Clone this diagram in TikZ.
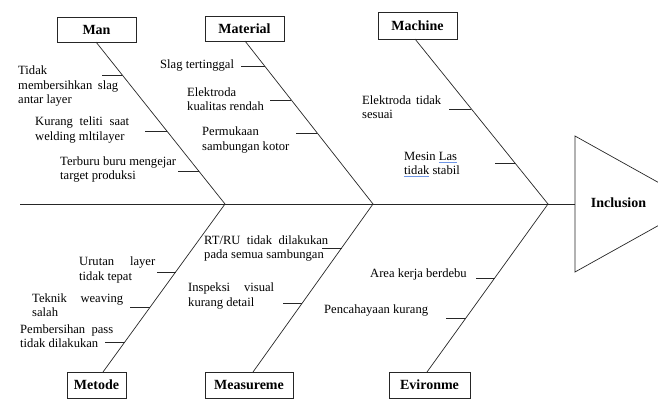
\documentclass[tikz,border=0pt]{standalone}
\usepackage{fontspec}
\setmainfont{Liberation Serif}
\usetikzlibrary{calc}
\definecolor{ulblue}{RGB}{110,150,230}
\newcommand\spellul[1]{\setbox0=\hbox{#1}\rlap{\textcolor{ulblue}{\rule[-2.6pt]{\wd0}{1.3pt}}}\box0\relax}
\tikzset{
  bone/.style={draw=black!85, line width=0.7pt},
  catbox/.style={draw=black!85, line width=0.7pt, inner sep=0pt, font=\fontsize{14}{16}\selectfont\bfseries},
  txt/.style={anchor=west, inner sep=0pt, align=left, font=\fontsize{12.6}{14.2}\selectfont}
}
\begin{document}
\begin{tikzpicture}[x=1pt,y=-1pt]
\useasboundingbox (0,0) rectangle (658,402);
\clip (0,0) rectangle (658,402);
% head
\coordinate (t1) at (575,136);
\coordinate (t2) at (697,204);
\coordinate (t3) at (575,272);
\draw[bone] (t1) -- (t2) -- (t3) -- cycle;
\node[inner sep=0pt, font=\fontsize{14}{16}\selectfont\bfseries] (effect) at (618.5,203) {Inclusion};
% spine
\coordinate (tail) at (20,204);
\coordinate (head) at (575,204);
\coordinate (j1) at (225,204);
\coordinate (j2) at (373,204);
\coordinate (j3) at (548,204);
\draw[bone] (tail) -- (head);
% boxes
\node[catbox, minimum width=79pt, minimum height=25pt] (man) at (96.5,29.5) {Man};
\node[catbox, minimum width=79pt, minimum height=25pt] (material) at (244.5,28.5) {Material};
\node[catbox, minimum width=79pt, minimum height=27pt] (machine) at (417.5,25.5) {Machine};
\node[catbox, minimum width=59pt, minimum height=26pt] (metode) at (96.5,385) {Metode};
\node[catbox, minimum width=88pt, minimum height=26pt] (measure) at (249,385) {Measureme};
\node[catbox, minimum width=81pt, minimum height=26pt] (envir) at (429.5,385) {Evironme};
% bone ends at boxes
\coordinate (manB) at (96,42);
\coordinate (matB) at (245,41);
\coordinate (macB) at (415,39);
\coordinate (metB) at (103,372);
\coordinate (meaB) at (253,372);
\coordinate (envB) at (427,372);
\draw[bone] (manB) -- (j1);
\draw[bone] (matB) -- (j2);
\draw[bone] (macB) -- (j3);
\draw[bone] (metB) -- (j1);
\draw[bone] (meaB) -- (j2);
\draw[bone] (envB) -- (j3);
% ticks: Man
\coordinate (a1s) at (102,75);  \coordinate (a1e) at (122.3,75);
\coordinate (a2s) at (145,131); \coordinate (a2e) at (166.9,131);
\coordinate (a3s) at (178,171); \coordinate (a3e) at (198.7,171);
% Material
\coordinate (b1s) at (241,66);  \coordinate (b1e) at (264.6,66);
\coordinate (b2s) at (270,100); \coordinate (b2e) at (291.3,100);
\coordinate (b3s) at (296,133); \coordinate (b3e) at (317.2,133);
% Machine
\coordinate (c1s) at (449,109); \coordinate (c1e) at (471.4,109);
\coordinate (c2s) at (495,163); \coordinate (c2e) at (515,163);
% Metode
\coordinate (d1s) at (157,272); \coordinate (d1e) at (175.6,272);
\coordinate (d2s) at (130,307); \coordinate (d2e) at (150.2,307);
\coordinate (d3s) at (105,342); \coordinate (d3e) at (124.8,342);
% Measureme
\coordinate (e1s) at (322,248); \coordinate (e1e) at (341.6,248);
\coordinate (e2s) at (283,303); \coordinate (e2e) at (302.3,303);
% Evironme
\coordinate (f1s) at (476,278); \coordinate (f1e) at (494.7,278);
\coordinate (f2s) at (446,318); \coordinate (f2e) at (465.9,318);
\foreach \p in {a1,a2,a3,b1,b2,b3,c1,c2,d1,d2,d3,e1,e2,f1,f2}
  \draw[bone] (\p s) -- (\p e);
% texts
\node[txt] (ta1) at (18,86) {Tidak\\\makebox[100pt][s]{membersihkan slag}\\antar layer};
\node[txt] (ta2) at (35,130) {\makebox[94pt][s]{Kurang teliti saat}\\welding mltilayer};
\node[txt] (ta3) at (60,169.5) {Terburu buru mengejar\\target produksi};
\node[txt] (tb1) at (160,65.5) {Slag tertinggal};
\node[txt] (tb2) at (187,99) {Elektroda\\kualitas rendah};
\node[txt] (tb3) at (202,140) {Permukaan\\sambungan kotor};
\node[txt] (tc1) at (362,107.5) {\makebox[79pt][s]{Elektroda tidak}\\sesuai};
\node[txt] (tc2) at (404,164.5) {Mesin \spellul{Las}\\\spellul{tidak} stabil};
\node[txt] (td1) at (79,270) {\makebox[76pt][s]{Urutan layer}\\tidak tepat};
\node[txt] (td2) at (32,305) {\makebox[91pt][s]{Teknik weaving}\\salah};
\node[txt] (td3) at (20,336) {\makebox[93pt][s]{Pembersihan pass}\\tidak dilakukan};
\node[txt] (te1) at (204,248.5) {\makebox[124pt][s]{RT/RU tidak dilakukan}\\pada semua sambungan};
\node[txt] (te2) at (188,296) {\makebox[86pt][s]{Inspeksi visual}\\kurang detail};
\node[txt] (tf1) at (370,274) {Area kerja berdebu};
\node[txt] (tf2) at (324,310) {Pencahayaan kurang};
\end{tikzpicture}
\end{document}
